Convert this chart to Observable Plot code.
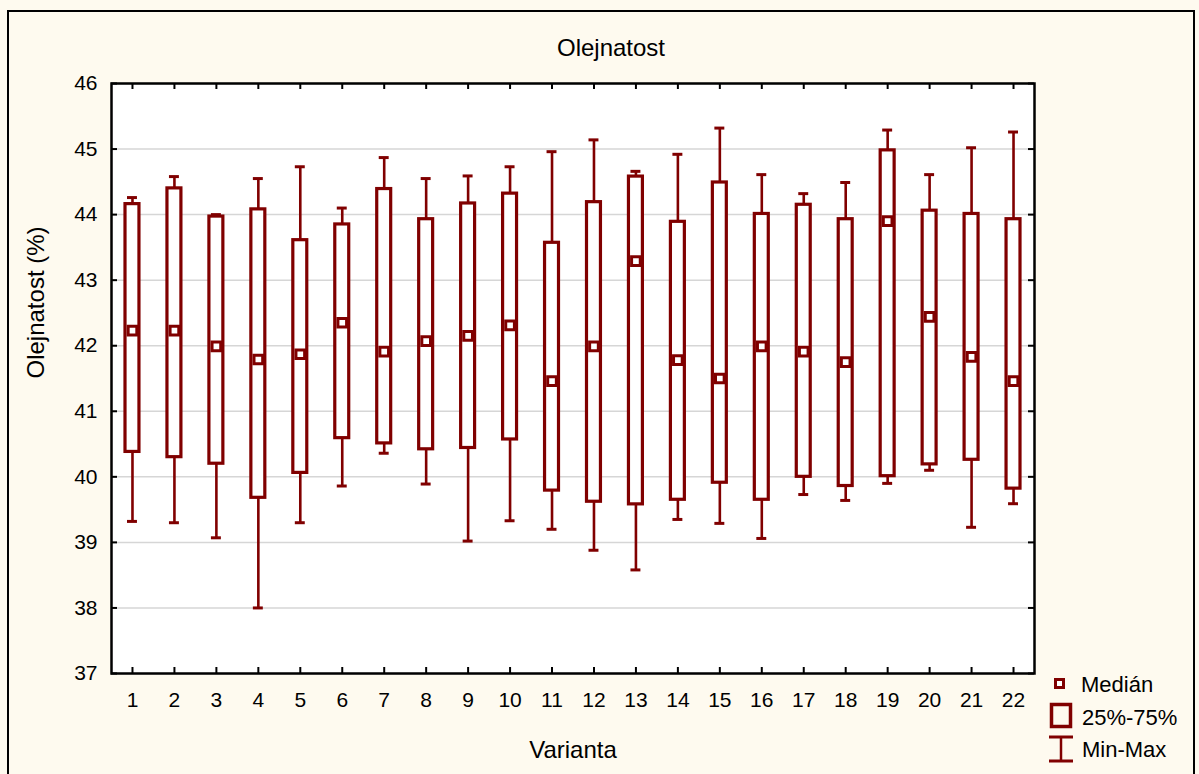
<!DOCTYPE html>
<html>
<head>
<meta charset="utf-8">
<script src="https://cdn.jsdelivr.net/npm/d3@7"></script>
<script src="https://cdn.jsdelivr.net/npm/@observablehq/plot@0.6"></script>
<style>
  html, body { margin: 0; padding: 0; background: #fefaef; }
  #fig { position: relative; width: 1199px; height: 774px; overflow: hidden; background: #fefaef;
         font-family: "Liberation Sans", Arial, sans-serif; }
  #border { position: absolute; left: 7px; top: 10px; width: 1188px; height: 800px;
            border: 2px solid #000; box-sizing: border-box; }
  #chart { position: absolute; left: 0; top: 0; }
  #legend { position: absolute; left: 1040px; top: 668px; }
</style>
</head>
<body>
<div id="fig">
  <div id="border"></div>
  <div id="chart"></div>
  <svg id="legend" width="159" height="106" xmlns="http://www.w3.org/2000/svg"
       font-family="Liberation Sans, Arial, sans-serif" font-size="22">
    <rect x="15.5" y="11.5" width="8" height="8" fill="#fff" stroke="#800000" stroke-width="3"/>
    <text x="41" y="23.5" fill="#000">Medián</text>
    <rect x="11.5" y="36.5" width="19" height="22" fill="none" stroke="#800000" stroke-width="3.5"/>
    <text x="42" y="57" fill="#000">25%-75%</text>
    <line x1="21" y1="69" x2="21" y2="93" stroke="#800000" stroke-width="2.5"/>
    <line x1="9" y1="69" x2="33" y2="69" stroke="#800000" stroke-width="3"/>
    <line x1="9" y1="93" x2="33" y2="93" stroke="#800000" stroke-width="3"/>
    <text x="42" y="88.5" fill="#000">Min-Max</text>
  </svg>
</div>
<script>
// Oil content (%) per variety: min, lower quartile, median, upper quartile, max
const variants = [1, 2, 3, 4, 5, 6, 7, 8, 9, 10, 11, 12, 13, 14, 15, 16, 17, 18, 19, 20, 21, 22];
const minVals = [39.32, 39.30, 39.07, 38.00, 39.30, 39.86, 40.36, 39.89, 39.02, 39.33, 39.20, 38.88, 38.58, 39.35, 39.29, 39.06, 39.73, 39.64, 39.90, 40.10, 39.23, 39.59];
const q1Vals  = [40.38, 40.30, 40.20, 39.68, 40.06, 40.59, 40.51, 40.42, 40.44, 40.57, 39.79, 39.62, 39.58, 39.65, 39.91, 39.65, 40.00, 39.86, 40.01, 40.19, 40.26, 39.82];
const medVals = [42.23, 42.23, 41.99, 41.79, 41.87, 42.35, 41.91, 42.07, 42.15, 42.31, 41.46, 41.99, 43.29, 41.78, 41.50, 41.99, 41.91, 41.75, 43.90, 42.44, 41.83, 41.46];
const q3Vals  = [44.16, 44.40, 43.97, 44.08, 43.61, 43.85, 44.39, 43.93, 44.17, 44.32, 43.57, 44.19, 44.58, 43.89, 44.49, 44.01, 44.15, 43.93, 44.98, 44.06, 44.01, 43.93];
const maxVals = [44.26, 44.58, 44.00, 44.55, 44.73, 44.10, 44.87, 44.55, 44.59, 44.73, 44.96, 45.14, 44.66, 44.92, 45.32, 44.61, 44.32, 44.49, 45.29, 44.61, 45.02, 45.26];
const yTicks = [37, 38, 39, 40, 41, 42, 43, 44, 45, 46];

const data = variants.map((v, i) => ({
  v, min: minVals[i], q1: q1Vals[i], med: medVals[i], q3: q3Vals[i], max: maxVals[i]
}));

const W = 1199, H = 774;
const mL = 111, mR = 165, mT = 83, mB = 101;
const plotW = W - mL - mR, plotH = H - mT - mB;
const red = "#800000";
const tick = 6;

const chart = Plot.plot({
  width: W, height: H,
  marginLeft: mL, marginRight: mR, marginTop: mT, marginBottom: mB,
  style: { background: "transparent", fontFamily: "Liberation Sans, Arial, sans-serif", fontSize: "21px", color: "#000" },
  x: { type: "band", domain: variants, paddingInner: 0, paddingOuter: 0, align: 0.5, round: false },
  y: { domain: [37, 46] },
  marks: [
    Plot.frame({ fill: "#fff", stroke: null }),
    Plot.gridY(yTicks, { stroke: "#d6d6d6", strokeOpacity: 1, strokeWidth: 1.5 }),
    // whiskers and caps
    Plot.ruleX(data, { x: "v", y1: "min", y2: "max", stroke: red, strokeWidth: 2.6 }),
    Plot.tickY(data, { x: "v", y: "min", stroke: red, strokeWidth: 3, insetLeft: 16, insetRight: 16 }),
    Plot.tickY(data, { x: "v", y: "max", stroke: red, strokeWidth: 3, insetLeft: 16, insetRight: 16 }),
    // interquartile boxes
    Plot.barY(data, { x: "v", y1: "q1", y2: "q3", fill: "#fff", stroke: red, strokeWidth: 3.2, insetLeft: 14, insetRight: 14 }),
    // medians
    Plot.dot(data, { x: "v", y: "med", symbol: "square", r: 4.9, fill: "#fff", stroke: red, strokeWidth: 3 }),
    // axis tick stubs pointing into the plot on all four sides
    Plot.tickY(yTicks, { y: d => d, insetRight: plotW - tick, stroke: "#000", strokeWidth: 2 }),
    Plot.tickY(yTicks, { y: d => d, insetLeft: plotW - tick, stroke: "#000", strokeWidth: 2 }),
    Plot.tickX(variants, { x: d => d, insetBottom: plotH - tick, stroke: "#000", strokeWidth: 2 }),
    Plot.tickX(variants, { x: d => d, insetTop: plotH - tick, stroke: "#000", strokeWidth: 2 }),
    Plot.frame({ stroke: "#000", strokeWidth: 2.5 }),
    Plot.axisY(yTicks, { tickSize: 0, tickPadding: 14, label: null, fontSize: 21, tickFormat: d => String(d) }),
    Plot.axisX({ tickSize: 0, tickPadding: 19, label: null, fontSize: 21 }),
    // titles
    Plot.text(["Olejnatost"], { frameAnchor: "top", dx: 38, dy: -35, fontSize: 24, lineAnchor: "middle" }),
    Plot.text(["Varianta"], { frameAnchor: "bottom", dy: 77, fontSize: 24, lineAnchor: "middle" }),
    Plot.text(["Olejnatost (%)"], { frameAnchor: "left", dx: -75, rotate: -90, fontSize: 24, lineAnchor: "middle" })
  ]
});
document.getElementById("chart").appendChild(chart);
</script>
</body>
</html>
